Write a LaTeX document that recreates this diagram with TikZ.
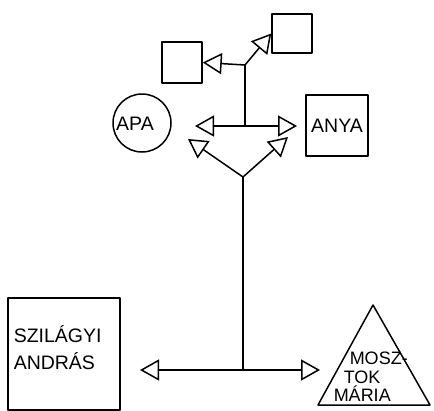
\documentclass[tikz,border=0pt]{standalone}
\usepackage{fontspec}
\setmainfont{Liberation Sans}
\usetikzlibrary{arrows.meta,positioning}

\tikzset{
  box/.style={draw,inner sep=0pt},
  bigname/.style={font=\fontsize{19.5}{27}\selectfont},
  smallname/.style={font=\fontsize{18}{19}\selectfont,inner sep=0pt,anchor=base west},
}

\begin{document}
\begin{tikzpicture}[>={Triangle[open,length=19pt,width=21pt]},x=1pt,y=-1pt,line width=1.5pt,line cap=round,line join=round]
  \useasboundingbox (0,0) rectangle (434,410);
  % children
  \node[box,minimum width=40pt,minimum height=41pt] (child1) at (182,62.5) {};
  \node[box,minimum width=40pt,minimum height=39pt] (child2) at (292,33.5) {};
  % parents
  \node[box,circle,minimum size=58pt] (apa) at (142,123) {};
  \node[bigname,inner sep=0pt] (apatxt) at (135,124) {APA};
  \node[box,minimum width=62pt,minimum height=61pt,bigname] (anya) at (337,125.5) {ANYA};
  % grandparents
  \node[box,minimum width=112pt,minimum height=112pt] (andras) at (64,354) {};
  \node[bigname,inner sep=0pt,anchor=base west,align=left] (andrastxt) at (13,369) {SZILÁGYI\\ANDRÁS};
  \draw (373,305) coordinate (maria) -- (318,405) -- (430,405) -- cycle;
  \node[smallname] (mosz) at (349,364) {MOSZ-};
  \node[smallname] (tok) at (343,383) {TOK};
  \node[smallname] (mariatxt) at (333,401) {MÁRIA};
  % joints and free arrow ends
  \coordinate (top) at (245,65);
  \coordinate (mid) at (245,126);
  \coordinate (vee) at (243,177);
  \coordinate (bot) at (243,370);
  \coordinate (midl) at (195,126);
  \coordinate (midr) at (297,126);
  \coordinate (veel) at (188,139);
  \coordinate (veer) at (288,137);
  \coordinate (botl) at (140,370);
  \coordinate (botr) at (320,370);
  \draw[->] (top) -- (child1.east);
  \draw[->] (top) -- (child2.west);
  \draw (top) -- (mid);
  \draw[->] (mid) -- (midl);
  \draw[->] (mid) -- (midr);
  \draw[->] (vee) -- (veel);
  \draw[->] (vee) -- (veer);
  \draw (vee) -- (bot);
  \draw[->] (bot) -- (botl);
  \draw[->] (bot) -- (botr);
\end{tikzpicture}
\end{document}
